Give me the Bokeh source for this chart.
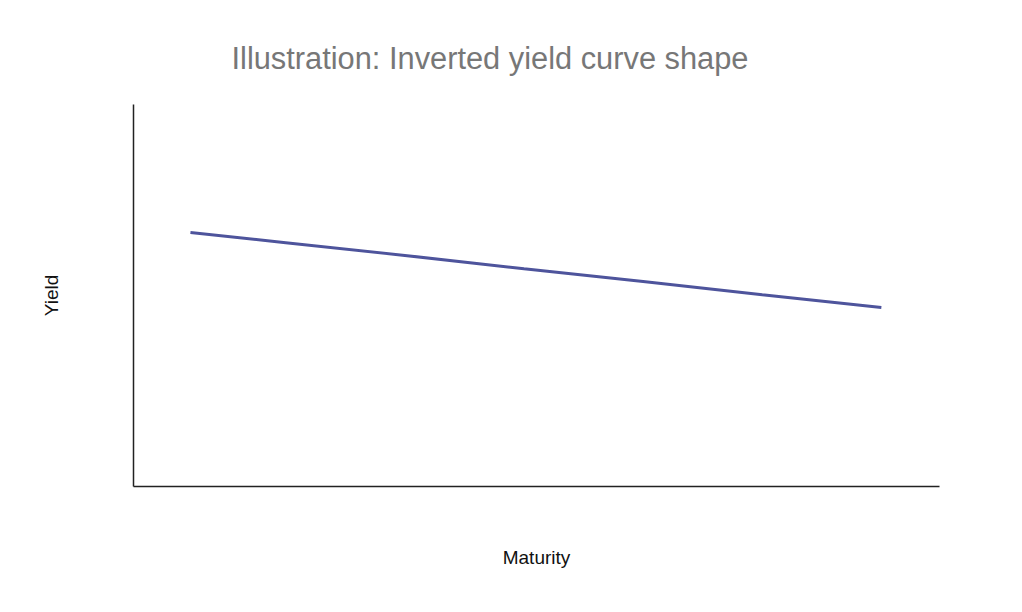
from bokeh.plotting import figure
from bokeh.models import FixedTicker, Range1d
from bokeh.embed import file_html
from bokeh.resources import INLINE

maturity = [1, 5, 10, 15, 20, 25, 30]
yields = [3.99, 3.83, 3.63, 3.42, 3.22, 3.01, 2.81]

p = figure(width=1008, height=598, output_backend="svg", toolbar_location=None,
           x_range=Range1d(-1.39, 32.44), y_range=Range1d(0, 6),
           min_border_left=133, min_border_right=69, min_border_top=104, min_border_bottom=112)
p.title.text = "Illustration: Inverted yield curve shape"
p.title.text_font = "Liberation Sans"
p.title.text_font_size = "30.8px"
p.title.text_font_style = "normal"
p.title.text_color = "#777777"
p.title.align = "left"
p.title.offset = 98
p.title.standoff = 58

p.line(maturity, yields, line_color="#4e549c", line_width=3)

for ax in (p.xaxis[0], p.yaxis[0]):
    ax.ticker = FixedTicker(ticks=[])
    ax.major_tick_line_color = None
    ax.minor_tick_line_color = None
    ax.major_tick_out = 0
    ax.major_tick_in = 0
    ax.major_label_text_font_size = "0px"
    ax.axis_line_color = "#222222"
    ax.axis_line_width = 1.5
    ax.axis_label_text_font = "Liberation Sans"
    ax.axis_label_text_font_size = "19px"
    ax.axis_label_text_font_style = "normal"
    ax.axis_label_text_color = "#111111"
p.xaxis[0].axis_label = "Maturity"
p.yaxis[0].axis_label = "Yield"
p.xaxis[0].axis_label_standoff = 60
p.yaxis[0].axis_label_standoff = 72

p.xgrid.visible = False
p.ygrid.visible = False
p.outline_line_color = None

open("out.html", "w").write(file_html(p, INLINE))
